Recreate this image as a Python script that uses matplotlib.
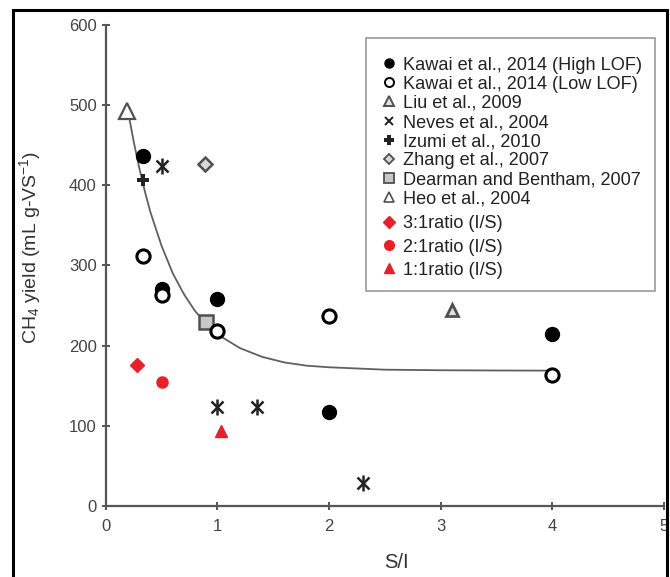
import matplotlib
matplotlib.use("Agg")
import matplotlib.pyplot as plt
from matplotlib.lines import Line2D
from matplotlib.patches import Rectangle

plt.rcParams['font.family'] = ['Liberation Sans', 'DejaVu Sans']
plt.rcParams['mathtext.fontset'] = 'custom'
plt.rcParams['mathtext.rm'] = 'Liberation Sans'
plt.rcParams['mathtext.it'] = 'Liberation Sans:italic'

# ---- data ----
kawai_high_x = [0.33, 0.5, 1.0, 2.0, 4.0]
kawai_high_y = [436, 270, 258, 117, 214]
kawai_low_x = [0.33, 0.5, 1.0, 2.0, 4.0]
kawai_low_y = [312, 263, 218, 237, 163]
liu_x = [3.1]
liu_y = [244]
neves_x = [0.5, 1.0, 1.35, 2.3]
neves_y = [424, 124, 124, 29]
izumi_x = [0.33]
izumi_y = [406]
zhang_x = [0.89]
zhang_y = [426]
dearman_x = [0.9]
dearman_y = [230]
heo_x = [0.19]
heo_y = [493]
ratio31_x = [0.28]
ratio31_y = [176]
ratio21_x = [0.5]
ratio21_y = [155]
ratio11_x = [1.03]
ratio11_y = [93]

# trend curve
curve_x = [0.2, 0.25, 0.3, 0.35, 0.4, 0.5, 0.6, 0.7, 0.8, 0.9, 1.0, 1.2, 1.4,
           1.6, 1.8, 2.0, 2.5, 3.0, 3.5, 4.0]
curve_y = [491, 454, 421, 392, 366, 324, 290, 264, 243, 227, 214, 197, 186,
           179, 175, 173, 170, 169.3, 169, 168.8]

study_labels = ["Kawai et al., 2014 (High LOF)", "Kawai et al., 2014 (Low LOF)",
                "Liu et al., 2009", "Neves et al., 2004", "Izumi et al., 2010",
                "Zhang et al., 2007", "Dearman and Bentham, 2007", "Heo et al., 2004"]
ratio_labels = ["3:1ratio (I/S)", "2:1ratio (I/S)", "1:1ratio (I/S)"]

x_ticks = [0, 1, 2, 3, 4, 5]
y_ticks = [0, 100, 200, 300, 400, 500, 600]

RED = '#e8202a'
GREY_EDGE = '#505050'
GREY_FILL = '#c8c8c8'
TXT = '#333333'

fig = plt.figure(figsize=(6.70, 5.77), dpi=100)
ax = fig.add_axes([0.158, 0.123, 0.833, 0.834])

ax.plot(curve_x, curve_y, '-', color='#606060', lw=1.3, zorder=1)

ax.plot(kawai_high_x, kawai_high_y, 'o', ls='none', color='black', ms=10, zorder=3)
ax.plot(kawai_low_x, kawai_low_y, 'o', ls='none', mfc='white', mec='black', mew=2.2, ms=9.5, zorder=3)
ax.plot(liu_x, liu_y, '^', ls='none', mfc='#e0e0e0', mec=GREY_EDGE, mew=2, ms=9, zorder=3)
ax.plot(neves_x, neves_y, 'x', ls='none', color='#222222', mew=1.8, ms=9, zorder=3)
ax.plot(neves_x, neves_y, '|', ls='none', color='#222222', mew=1.8, ms=11, zorder=3)
ax.plot(izumi_x, izumi_y, 'P', ls='none', color='#222222', mew=0, ms=9, zorder=3)
ax.plot(zhang_x, zhang_y, 'D', ls='none', mfc='#d8d8d8', mec=GREY_EDGE, mew=1.8, ms=7.5, zorder=3)
ax.plot(dearman_x, dearman_y, 's', ls='none', mfc=GREY_FILL, mec=GREY_EDGE, mew=1.8, ms=10, zorder=2)
ax.plot(heo_x, heo_y, '^', ls='none', mfc='white', mec=GREY_EDGE, mew=1.6, ms=11, zorder=3)
ax.plot(ratio31_x, ratio31_y, 'D', ls='none', color=RED, ms=7.5, zorder=3)
ax.plot(ratio21_x, ratio21_y, 'o', ls='none', color=RED, ms=8, zorder=3)
ax.plot(ratio11_x, ratio11_y, '^', ls='none', color=RED, ms=9, zorder=3)

ax.set_xlim(0, 5)
ax.set_ylim(0, 600)
ax.set_xticks(x_ticks)
ax.set_yticks(y_ticks)
ax.tick_params(axis='both', labelsize=12, labelcolor='#444444', color='#555555',
               width=1.4, length=6, direction='inout')
ax.tick_params(axis='x', pad=6)
for s in ['top', 'right']:
    ax.spines[s].set_visible(False)
for s in ['left', 'bottom']:
    ax.spines[s].set_color('#555555')
    ax.spines[s].set_linewidth(1.6)

ax.set_xlabel('S/I', fontsize=14.5, color=TXT)
ax.set_ylabel('CH$_4$ yield (mL g-VS$^{-1}$)', fontsize=14, color=TXT)
ax.xaxis.label.set_va('center')
ax.xaxis.set_label_coords(0.521, -0.118)
ax.yaxis.label.set_va('center')
ax.yaxis.label.set_ha('center')
ax.yaxis.set_label_coords(-0.136, 0.537)

# legend frame
ax.add_patch(Rectangle((366 / 670, 1 - 291 / 577), 289 / 670, 253 / 577,
                       transform=fig.transFigure, facecolor='white',
                       edgecolor='#999999', lw=1.2, zorder=4, clip_on=False))

ms_l = 6.5
h1 = [
    Line2D([], [], marker='o', ls='none', color='black', ms=ms_l),
    Line2D([], [], marker='o', ls='none', mfc='white', mec='black', mew=1.4, ms=ms_l),
    Line2D([], [], marker='^', ls='none', mfc='#e0e0e0', mec=GREY_EDGE, mew=1.4, ms=ms_l),
    Line2D([], [], marker='x', ls='none', color='#222222', mew=1.4, ms=ms_l - 0.5),
    Line2D([], [], marker='P', ls='none', color='#222222', mew=0, ms=ms_l),
    Line2D([], [], marker='D', ls='none', mfc='#d8d8d8', mec=GREY_EDGE, mew=1.3, ms=5.5),
    Line2D([], [], marker='s', ls='none', mfc=GREY_FILL, mec=GREY_EDGE, mew=1.3, ms=ms_l),
    Line2D([], [], marker='^', ls='none', mfc='white', mec=GREY_EDGE, mew=1.2, ms=ms_l + 0.5),
]
h2 = [
    Line2D([], [], marker='D', ls='none', color=RED, ms=6),
    Line2D([], [], marker='o', ls='none', color=RED, ms=ms_l + 0.5),
    Line2D([], [], marker='^', ls='none', color=RED, ms=ms_l + 1),
]
common = dict(loc='upper left', fontsize=13.1, frameon=False, handlelength=0.7,
              handletextpad=0.45, borderpad=0, borderaxespad=0,
              bbox_transform=fig.transFigure)
leg1 = ax.legend(h1, study_labels, bbox_to_anchor=(382.5 / 670, 1 - 56.5 / 577),
                 labelspacing=0.12, **common)
ax.add_artist(leg1)
leg2 = ax.legend(h2, ratio_labels, bbox_to_anchor=(382.5 / 670, 1 - 215.5 / 577),
                 labelspacing=0.33, **common)
for lg in (leg1, leg2):
    lg.set_zorder(6)
    for t in lg.get_texts():
        t.set_color('#222222')

# figure border frame
fig.patches.append(Rectangle((0.019, -0.05), 0.976, 1.033, transform=fig.transFigure,
                             fill=False, edgecolor='black', lw=2.2))

fig.savefig('out.png', dpi=100)
